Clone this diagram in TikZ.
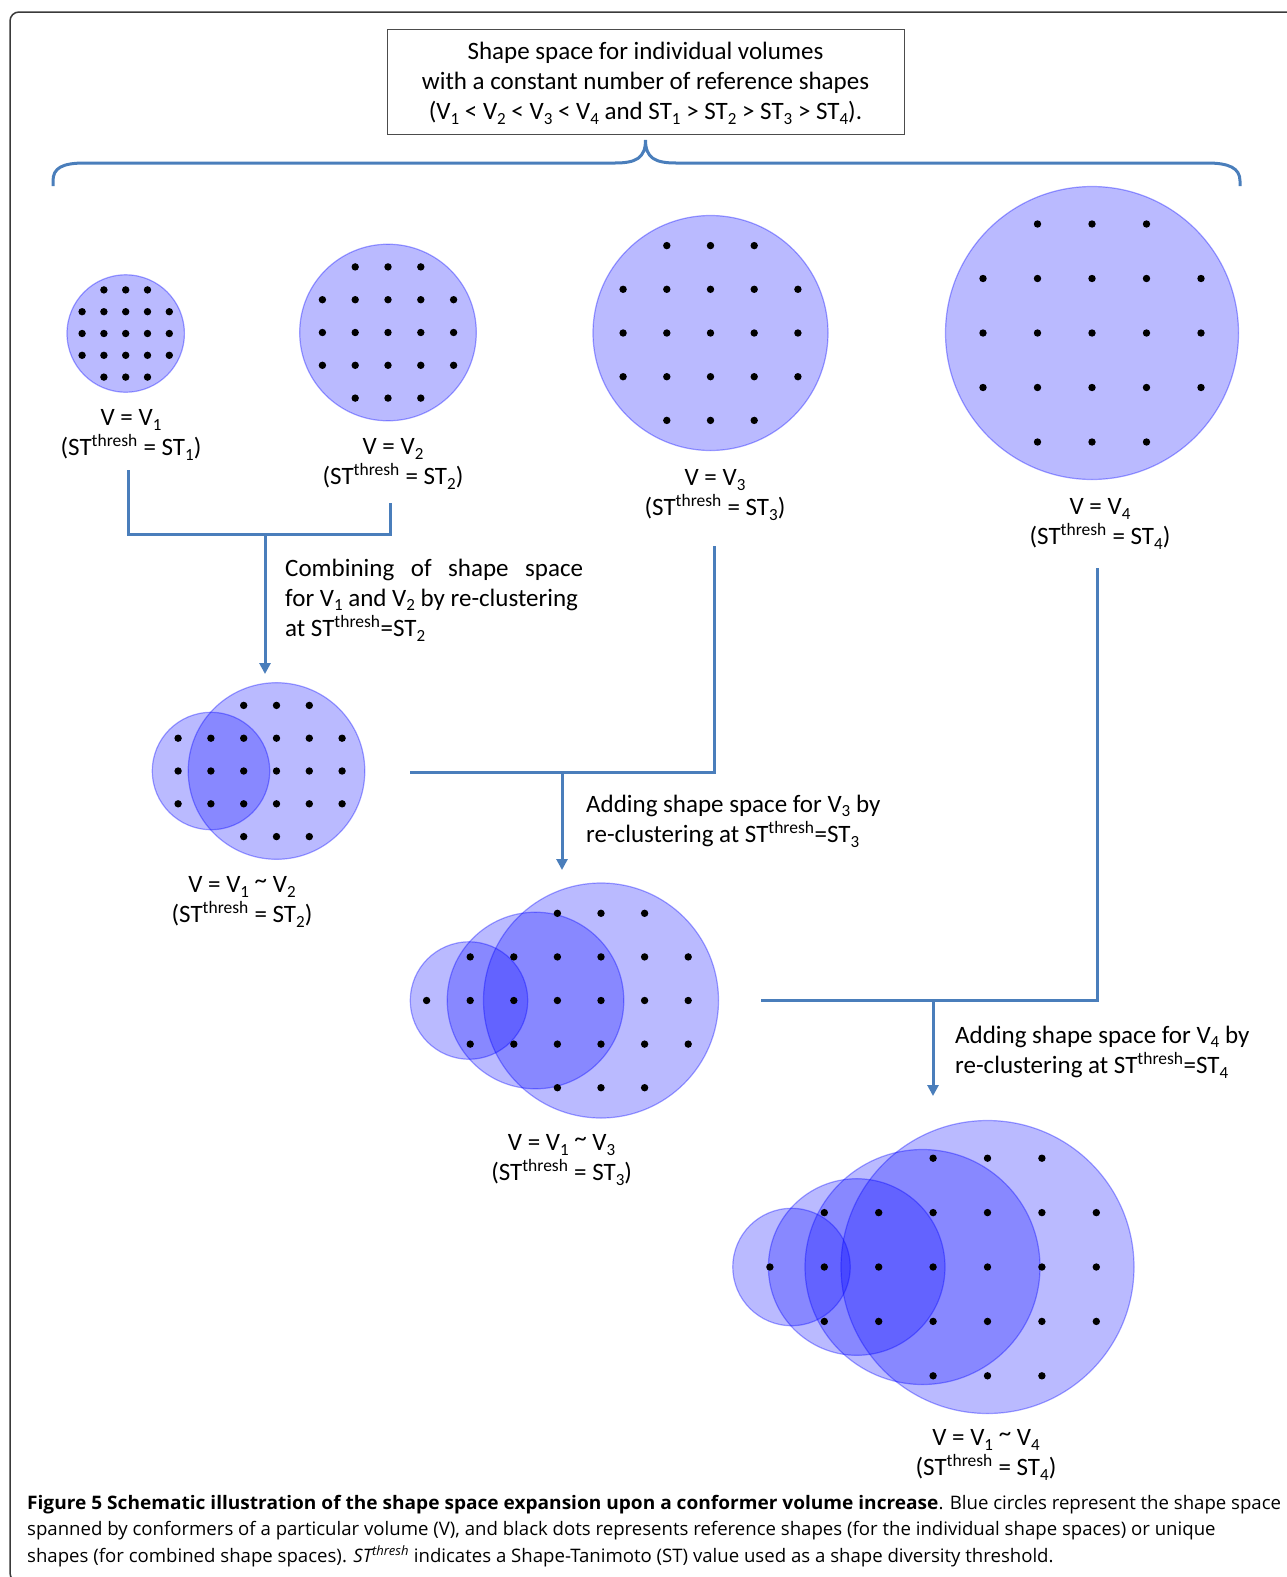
\documentclass[tikz,border=0pt]{standalone}
\usepackage{fontspec}
\setmainfont{Carlito}
\newfontfamily\capfont{Open Sans}
\usetikzlibrary{arrows.meta}
\definecolor{lineblue}{HTML}{4A7EBB}
\definecolor{framec}{HTML}{3A3A3A}
\newcommand{\thr}{\textsuperscript{thresh}}
\newcommand{\sbs}[1]{\raisebox{-4.5pt}{\fontsize{17}{17}\selectfont #1}}
\newcommand{\tld}{\raisebox{4pt}{\textasciitilde}}
\newcommand{\dotrow}[5]{\foreach \k in {#4,...,#5}{\fill ({#1+(\k)*#3},{#2}) circle[radius=3.7pt];}}
% individual grid: cx, cy, spacing
\newcommand{\indivdots}[3]{%
  \dotrow{#1}{#2-2*#3}{#3}{-1}{1}
  \dotrow{#1}{#2-#3}{#3}{-2}{2}
  \dotrow{#1}{#2}{#3}{-2}{2}
  \dotrow{#1}{#2+#3}{#3}{-2}{2}
  \dotrow{#1}{#2+2*#3}{#3}{-1}{1}}
\tikzset{
  conn/.style={draw=lineblue, line width=3pt},
  arr/.style={conn, -{Triangle[length=11pt,width=11pt]}},
  shp/.style={circle, inner sep=0pt, fill=blue, fill opacity=0.27, draw=blue, draw opacity=0.35, line width=1.2pt},
  lbl/.style={font=\fontsize{25}{30.3}\selectfont, align=center, inner sep=0pt},
  txt/.style={font=\fontsize{25}{30.3}\selectfont, align=left, inner sep=0pt, anchor=west},
  capnode/.style={font=\capfont\fontsize{18.6}{22}\selectfont, anchor=base west, inner sep=0pt},
}
\begin{document}
\begin{tikzpicture}[x=1pt,y=-1pt]
\useasboundingbox (0,0) rectangle (1286,1577);
% outer frame
\draw[framec, line width=1.5pt, rounded corners=9pt] (60,1582) -| (10,12) -- (1300,12);

% title box
\node[draw=black!70, line width=1pt, minimum width=517pt, minimum height=105pt] (title) at (645.5,81.5) {};
\node[lbl] (titletext) at (645.5,83)
  {Shape space for individual volumes\\
   with a constant number of reference shapes\\
   (V\sbs{1} < V\sbs{2} < V\sbs{3} < V\sbs{4} and ST\sbs{1} > ST\sbs{2} > ST\sbs{3} > ST\sbs{4}).};

% brace
\coordinate (braceL) at (53,186);
\coordinate (braceTip) at (645.5,140);
\coordinate (braceR) at (1240,186);
\draw[conn] (braceL) -- (53,181) .. controls (53,168) and (62,163) .. (85,163) -- (615,163)
  .. controls (636,163) and (645.5,158) .. (braceTip)
  .. controls (645.5,158) and (655,163) .. (676,163) -- (1207,163)
  .. controls (1229,163) and (1240,168) .. (1240,181) -- (braceR);

% individual shape spaces
\node[shp, minimum size=117.4pt] (c1) at (125.7,333.5) {};
\node[shp, minimum size=176.6pt] (c2) at (388,332.5) {};
\node[shp, minimum size=235pt] (c3) at (710.5,333) {};
\node[shp, minimum size=293pt] (c4) at (1092,333) {};
\indivdots{125.7}{333.5}{21.8}
\indivdots{388}{332.5}{32.8}
\indivdots{710.5}{333}{43.7}
\indivdots{1092}{333}{54.5}

\node[lbl] (l1) at (131,435) {V = V\sbs{1}\\(ST\thr{} = ST\sbs{1})};
\node[lbl] (l2) at (393,464) {V = V\sbs{2}\\(ST\thr{} = ST\sbs{2})};
\node[lbl] (l3) at (715,495) {V = V\sbs{3}\\(ST\thr{} = ST\sbs{3})};
\node[lbl] (l4) at (1100,524) {V = V\sbs{4}\\(ST\thr{} = ST\sbs{4})};

% combined V1~V2
\node[shp, minimum size=117.4pt] (m12a) at (211,771) {};
\node[shp, minimum size=176.6pt] (m12b) at (276.5,771) {};
\dotrow{276.5}{705.4}{32.8}{-1}{1}
\dotrow{276.5}{738.2}{32.8}{-3}{2}
\dotrow{276.5}{771}{32.8}{-3}{2}
\dotrow{276.5}{803.8}{32.8}{-3}{2}
\dotrow{276.5}{836.6}{32.8}{-1}{1}
\node[lbl] (l12) at (242,902) {V = V\sbs{1} \tld{} V\sbs{2}\\(ST\thr{} = ST\sbs{2})};

% combined V1~V3
\node[shp, minimum size=117.4pt] (m13a) at (469,1000.5) {};
\node[shp, minimum size=176.6pt] (m13b) at (535.5,1000.5) {};
\node[shp, minimum size=235pt] (m13c) at (601,1000.5) {};
\dotrow{601}{913.3}{43.6}{-1}{1}
\dotrow{601}{956.9}{43.6}{-3}{2}
\dotrow{601}{1000.5}{43.6}{-4}{2}
\dotrow{601}{1044.1}{43.6}{-3}{2}
\dotrow{601}{1087.7}{43.6}{-1}{1}
\node[lbl] (l13) at (561.6,1160) {V = V\sbs{1} \tld{} V\sbs{3}\\(ST\thr{} = ST\sbs{3})};

% combined V1~V4
\node[shp, minimum size=117.4pt] (m14a) at (791.5,1267) {};
\node[shp, minimum size=176.6pt] (m14b) at (856.7,1267) {};
\node[shp, minimum size=235pt] (m14c) at (922.5,1267) {};
\node[shp, minimum size=293pt] (m14d) at (987.5,1267) {};
\dotrow{987.5}{1158.2}{54.4}{-1}{1}
\dotrow{987.5}{1212.6}{54.4}{-3}{2}
\dotrow{987.5}{1267}{54.4}{-4}{2}
\dotrow{987.5}{1321.4}{54.4}{-3}{2}
\dotrow{987.5}{1375.8}{54.4}{-1}{1}
\node[lbl] (l14) at (986,1455) {V = V\sbs{1} \tld{} V\sbs{4}\\(ST\thr{} = ST\sbs{4})};

% connector 1
\coordinate (e1) at (128,470);
\coordinate (e2) at (390,503);
\coordinate (j1) at (265,534);
\coordinate (t12) at (265,674);
\draw[conn] (e1) |- (j1) -| (e2);
\draw[arr] (j1) -- (t12);
\node[txt] (tx1) at (285,600) {\hbox to 298pt{Combining\hfill of\hfill shape\hfill space}\\
  for V\sbs{1} and V\sbs{2} by re-clustering\\ at ST\thr{}=ST\sbs{2}};

% connector 2
\coordinate (e3) at (714,546);
\coordinate (s13) at (410,772);
\coordinate (j2) at (562,772);
\coordinate (t13) at (562,870);
\draw[conn] (e3) |- (s13);
\draw[arr] (j2) -- (t13);
\node[txt] (tx2) at (586,821) {Adding shape space for V\sbs{3} by\\ re-clustering at ST\thr{}=ST\sbs{3}};

% connector 3
\coordinate (e4) at (1097,568);
\coordinate (s14) at (761,1000.5);
\coordinate (j3) at (933,1000.5);
\coordinate (t14) at (933,1096);
\draw[conn] (e4) |- (s14);
\draw[arr] (j3) -- (t14);
\node[txt] (tx3) at (955,1052) {Adding shape space for V\sbs{4} by\\ re-clustering at ST\thr{}=ST\sbs{4}};

% caption
\node[capnode] (cap1) at (27,1509) {\scalebox{1.026}[1]{\textbf{Figure 5 Schematic illustration of the shape space expansion upon a conformer volume increase}}. Blue circles represent the shape space};
\node[capnode] (cap2) at (27,1535.5) {spanned by conformers of a particular volume (V), and black dots represents reference shapes (for the individual shape spaces) or unique};
\node[capnode] (cap3) at (27,1562) {shapes (for combined shape spaces). \textit{ST\textsuperscript{thresh}} indicates a Shape-Tanimoto (ST) value used as a shape diversity threshold.};
\end{tikzpicture}
\end{document}
